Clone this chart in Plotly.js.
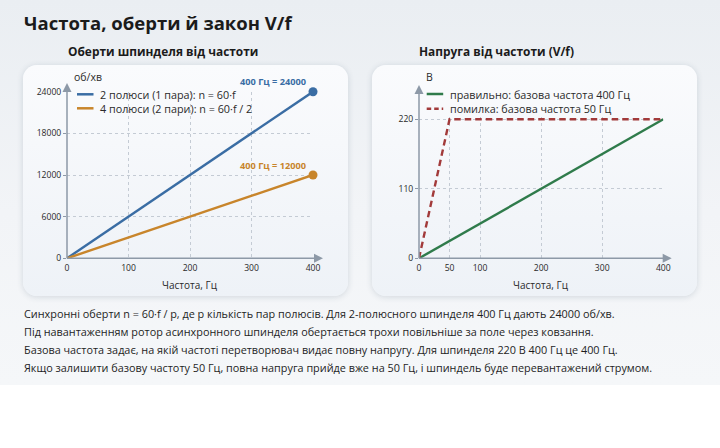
<!DOCTYPE html>
<html><head><meta charset="utf-8">
<script src="https://cdn.plot.ly/plotly-3.0.1.min.js"></script>
<style>
html,body{margin:0;padding:0}
body{width:720px;height:448px;position:relative;overflow:hidden;background:#fff;font-family:"Open Sans",sans-serif;color:#1e1e1e}
#bg{position:absolute;left:0;top:0;width:720px;height:385px;background:linear-gradient(180deg,#eaeef2 0%,#f2f4f7 55%,#f5f7f9 100%)}
.card{position:absolute;top:65px;width:325px;height:231px;border-radius:14px;background:linear-gradient(180deg,#fafbfd 0%,#eef2f7 100%);box-shadow:0 1px 6px rgba(40,60,90,0.16)}
#title{position:absolute;left:24px;top:13.6px;font-size:18.5px;font-weight:700;line-height:1;white-space:nowrap;color:#1b1b1b}
.sub{position:absolute;top:45.5px;font-size:11.9px;font-weight:700;line-height:1;white-space:nowrap;color:#1b1b1b}
#body{position:absolute;left:24px;top:304.5px;font-size:10.85px;line-height:18.3px;white-space:nowrap;color:#1e1e1e}
#chart{position:absolute;left:0;top:0;width:720px;height:448px}
</style></head>
<body>
<div id="bg"></div>
<div class="card" style="left:23px"></div>
<div class="card" style="left:372px"></div>
<div id="title">Частота, оберти й закон V/f</div>
<div class="sub" style="left:68px">Оберти шпинделя від частоти</div>
<div class="sub" style="left:419px">Напруга від частоти (V/f)</div>
<div id="body">
Синхронні оберти n = 60·f / p, де p кількість пар полюсів. Для 2-полюсного шпинделя 400 Гц дають 24000 об/хв.<br>
Під навантаженням ротор асинхронного шпинделя обертається трохи повільніше за поле через ковзання.<br>
Базова частота задає, на якій частоті перетворювач видає повну напругу. Для шпинделя 220 В 400 Гц це 400 Гц.<br>
Якщо залишити базову частоту 50 Гц, повна напруга прийде вже на 50 Гц, і шпиндель буде перевантажений струмом.
</div>
<div id="chart"></div>
<script>
// ---- data ----
const freq = [0, 400];
const rpm2Pole = [0, 24000];
const rpm4Pole = [0, 12000];
const vfFreqCorrect = [0, 400];
const vfVoltCorrect = [0, 220];
const vfFreqWrong = [0, 50, 400];
const vfVoltWrong = [0, 220, 220];
const rpmTicks = [0, 6000, 12000, 18000, 24000];
const freqTicksLeft = [0, 100, 200, 300, 400];
const freqTicksRight = [0, 50, 100, 200, 300, 400];
const voltTicks = [0, 110, 220];
const rpmNames = ["2 полюси (1 пара): n = 60·f", "4 полюси (2 пари): n = 60·f / 2"];
const vfNames = ["правильно: базова частота 400 Гц", "помилка: базова частота 50 Гц"];
const freqUnit = "Гц";
const xTitle = "Частота, Гц";
const rpmUnit = "об/хв";
const voltUnit = "В";

// ---- styling / geometry ----
const W = 720, H = 448;
const BLUE = "#3a6da4", ORANGE = "#c8852b", GREEN = "#2f7b4b", RED = "#a23a3a";
const AXIS = "#8d99a7", GRID = "#c4cbd4", TXT = "#2a2a2a";
const FONT = "Open Sans, sans-serif";
const px = x => x / W, py = y => 1 - y / H;
// left plot (pixels)
const L = {x0: 67, x1: 313, y0: 258.3, y1: 91.7, xr: [0, 400], yr: [0, 24000], xTip: 323, yTip: 83};
// right plot
const R = {x0: 419, x1: 663.3, y0: 258.3, y1: 117.4, xr: [0, 400], yr: [0, 223], xTip: 671.7, yTip: 85};

function axisCommon(extra) {
  return Object.assign({
    showgrid: true, gridcolor: GRID, griddash: "dot", gridwidth: 1,
    zeroline: false, showline: false, fixedrange: true, tickformat: "d",
    tickfont: {family: FONT, size: 8.6, color: TXT}, tickmode: "array"
  }, extra);
}

const last = a => a[a.length - 1];

const traces = [
  {x: freq, y: rpm2Pole, mode: "lines", line: {color: BLUE, width: 2.4}, xaxis: "x", yaxis: "y", hoverinfo: "skip"},
  {x: freq, y: rpm4Pole, mode: "lines", line: {color: ORANGE, width: 2.4}, xaxis: "x", yaxis: "y", hoverinfo: "skip"},
  {x: [last(freq), last(freq)], y: [last(rpm2Pole), last(rpm4Pole)], mode: "markers",
   marker: {color: [BLUE, ORANGE], size: 9}, cliponaxis: false, xaxis: "x", yaxis: "y", hoverinfo: "skip"},
  {x: vfFreqCorrect, y: vfVoltCorrect, mode: "lines", line: {color: GREEN, width: 2.4}, xaxis: "x2", yaxis: "y2", hoverinfo: "skip"},
  {x: vfFreqWrong, y: vfVoltWrong, mode: "lines", line: {color: RED, width: 2.4, dash: "6.5px,4px"}, xaxis: "x2", yaxis: "y2", hoverinfo: "skip"}
];

function axisShapes(P) {
  const c = AXIS;
  return [
    {type: "line", xref: "paper", yref: "paper", x0: px(P.x0), x1: px(P.xTip - 4), y0: py(P.y0), y1: py(P.y0), line: {color: c, width: 1.5}},
    {type: "line", xref: "paper", yref: "paper", x0: px(P.x0), x1: px(P.x0), y0: py(P.y0), y1: py(P.yTip + 4), line: {color: c, width: 1.5}},
    {type: "path", xref: "paper", yref: "paper", fillcolor: c, line: {width: 0},
     path: `M${px(P.xTip)},${py(P.y0)} L${px(P.xTip - 9)},${py(P.y0 - 4.5)} L${px(P.xTip - 9)},${py(P.y0 + 4.5)} Z`},
    {type: "path", xref: "paper", yref: "paper", fillcolor: c, line: {width: 0},
     path: `M${px(P.x0)},${py(P.yTip)} L${px(P.x0 - 4.5)},${py(P.yTip + 9)} L${px(P.x0 + 4.5)},${py(P.yTip + 9)} Z`}
  ];
}

function legendItems(x0, ys, names, colors, dashes) {
  const shapes = [], anns = [];
  names.forEach((n, i) => {
    shapes.push({type: "line", xref: "paper", yref: "paper", x0: px(x0), x1: px(x0 + 16.5), y0: py(ys[i]), y1: py(ys[i]),
      line: {color: colors[i], width: 2.5, dash: dashes[i]}});
    anns.push({xref: "paper", yref: "paper", x: px(x0 + 21), y: py(ys[i]), xanchor: "left", yanchor: "middle",
      text: n, showarrow: false, font: {family: FONT, size: 10.8, color: TXT}});
  });
  return {shapes, anns};
}

const legL = legendItems(77, [94.3, 108.3], rpmNames, [BLUE, ORANGE], ["solid", "solid"]);
const legR = legendItems(426.7, [94, 108.7], vfNames, [GREEN, RED], ["solid", "4.5px,3px"]);

const annotations = [
  {xref: "paper", yref: "paper", x: px(72), y: py(76.5), xanchor: "left", yanchor: "middle", text: rpmUnit, showarrow: false, font: {family: FONT, size: 10.5, color: TXT}},
  {xref: "paper", yref: "paper", x: px(424), y: py(76.5), xanchor: "left", yanchor: "middle", text: voltUnit, showarrow: false, font: {family: FONT, size: 10.5, color: TXT}},
  {xref: "x", yref: "paper", x: 200, y: py(284.5), xanchor: "center", yanchor: "middle", text: xTitle, showarrow: false, font: {family: FONT, size: 10, color: TXT}},
  {xref: "x2", yref: "paper", x: 200, y: py(284.5), xanchor: "center", yanchor: "middle", text: xTitle, showarrow: false, font: {family: FONT, size: 10, color: TXT}},
  {xref: "x", yref: "y", x: last(freq), y: last(rpm2Pole), xanchor: "right", yanchor: "middle", xshift: -5, yshift: 10,
   text: `<b>${last(freq)} ${freqUnit} = ${last(rpm2Pole)}</b>`, showarrow: false, font: {family: FONT, size: 9.2, color: BLUE}},
  {xref: "x", yref: "y", x: last(freq), y: last(rpm4Pole), xanchor: "right", yanchor: "middle", xshift: -5, yshift: 10,
   text: `<b>${last(freq)} ${freqUnit} = ${last(rpm4Pole)}</b>`, showarrow: false, font: {family: FONT, size: 9.2, color: ORANGE}}
].concat(legL.anns, legR.anns);

const layout = {
  width: W, height: H, margin: {l: 0, r: 0, t: 0, b: 0},
  paper_bgcolor: "rgba(0,0,0,0)", plot_bgcolor: "rgba(0,0,0,0)",
  showlegend: false, font: {family: FONT, color: TXT},
  xaxis: axisCommon({domain: [px(L.x0), px(L.x1)], range: L.xr, tickvals: freqTicksLeft, ticks: "", ticklabelstandoff: 3, anchor: "y"}),
  yaxis: axisCommon({domain: [py(L.y0), py(L.y1)], range: L.yr, tickvals: rpmTicks, ticks: "outside", ticklen: 3, tickcolor: AXIS, anchor: "x"}),
  xaxis2: axisCommon({domain: [px(R.x0), px(R.x1)], range: R.xr, tickvals: freqTicksRight, ticks: "", ticklabelstandoff: 3, anchor: "y2"}),
  yaxis2: axisCommon({domain: [py(R.y0), py(R.y1)], range: R.yr, tickvals: voltTicks, ticks: "outside", ticklen: 3, tickcolor: AXIS, anchor: "x2"}),
  shapes: axisShapes(L).concat(axisShapes(R), legL.shapes, legR.shapes),
  annotations: annotations
};

Plotly.newPlot("chart", traces, layout, {displayModeBar: false, staticPlot: true});
</script>
</body></html>
